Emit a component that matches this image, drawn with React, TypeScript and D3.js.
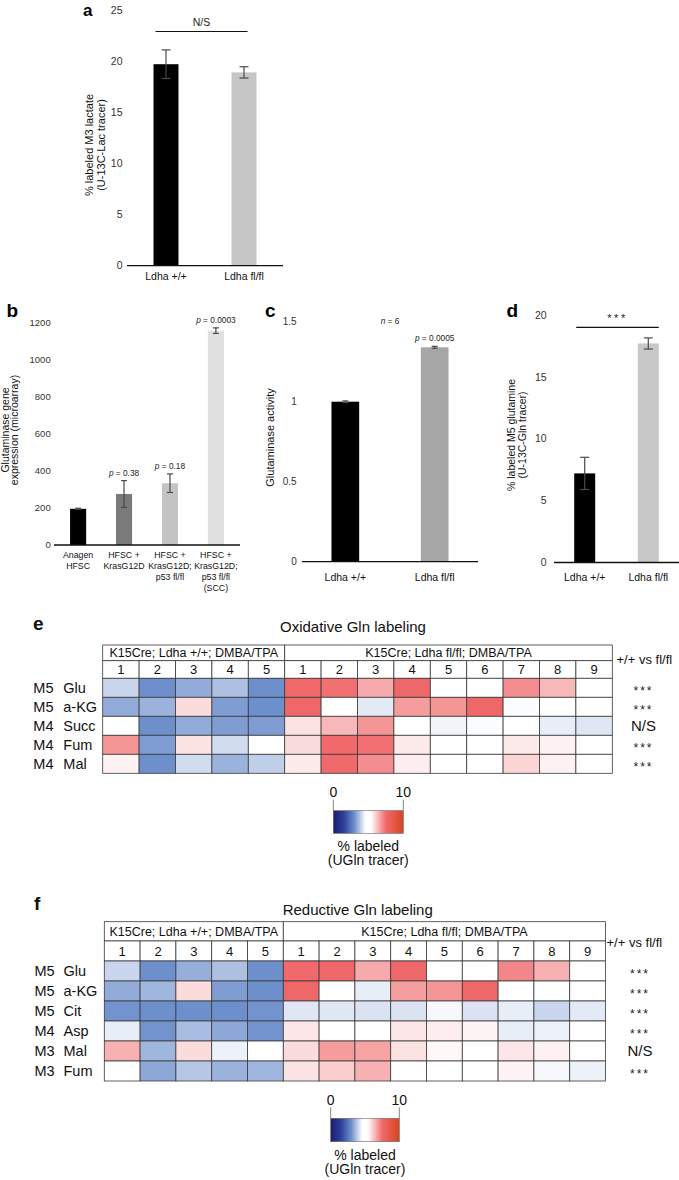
import * as d3 from "d3";

const FONT = "'Liberation Sans', Arial, Helvetica, sans-serif";

// ---- panel a : % labeled M3 lactate ----
const aGroups = ["Ldha +/+", "Ldha fl/fl"];
const aValues = [19.7, 18.9];
const aErrors = [1.4, 0.55];
const aTicks = [0, 5, 10, 15, 20, 25];

// ---- panel b : glutaminase gene expression ----
const bGroups = [
  ["Anagen", "HFSC"],
  ["HFSC +", "KrasG12D"],
  ["HFSC +", "KrasG12D;", "p53 fl/fl"],
  ["HFSC +", "KrasG12D;", "p53 fl/fl", "(SCC)"],
];
const bValues = [195, 275, 333, 1155];
const bErrors = [3, 72, 50, 15];
const bPvalues = ["", "0.38", "0.18", "0.0003"];
const bTicks = [0, 200, 400, 600, 800, 1000, 1200];

// ---- panel c : glutaminase activity ----
const cGroups = ["Ldha +/+", "Ldha fl/fl"];
const cValues = [1.0, 1.34];
const cErrors = [0.005, 0.006];
const cPvalues = ["", "0.0005"];
const cTicks = [0, 0.5, 1, 1.5];

// ---- panel d : % labeled M5 glutamine ----
const dGroups = ["Ldha +/+", "Ldha fl/fl"];
const dValues = [7.2, 17.7];
const dErrors = [1.3, 0.45];
const dTicks = [0, 5, 10, 15, 20];

// ---- heatmaps e / f ----
const wtSamples = ["1", "2", "3", "4", "5"];
const flSamples = ["1", "2", "3", "4", "5", "6", "7", "8", "9"];

const oxIsotopes = ["M5", "M5", "M4", "M4", "M4"];
const oxMetabolites = ["Glu", "a-KG", "Succ", "Fum", "Mal"];
const oxLabeling = [
  [4.0, 3.0, 3.4, 3.7, 3.0, 7.5, 7.4, 6.6, 7.6, 5.2, 4.85, 7.0, 6.4, 5.0],
  [3.4, 3.5, 5.9, 3.2, 3.0, 7.6, 5.4, 4.3, 6.8, 6.9, 7.6, 4.55, 4.65, 5.3],
  [5.0, 3.0, 3.4, 3.2, 3.2, 5.8, 6.4, 6.9, 4.85, 4.45, 4.55, 4.75, 4.35, 4.25],
  [6.9, 3.2, 5.8, 4.1, 4.95, 5.9, 7.5, 7.4, 5.7, 5.0, 5.0, 5.7, 5.6, 5.3],
  [5.6, 3.0, 4.1, 3.5, 3.9, 5.7, 7.5, 7.0, 5.65, 5.0, 5.0, 6.0, 5.6, 5.3],
];
const oxSignif = ["***", "***", "N/S", "***", "***"];

const redIsotopes = ["M5", "M5", "M5", "M4", "M3", "M3"];
const redMetabolites = ["Glu", "a-KG", "Cit", "Asp", "Mal", "Fum"];
const redLabeling = [
  [4.0, 3.0, 3.45, 3.7, 3.0, 7.5, 7.6, 6.6, 7.6, 5.3, 4.85, 7.1, 6.5, 5.0],
  [3.4, 3.55, 5.9, 3.2, 3.0, 7.6, 5.4, 4.35, 6.75, 6.9, 7.6, 4.85, 5.0, 5.4],
  [3.05, 3.0, 3.0, 3.0, 3.05, 4.25, 4.25, 4.2, 4.2, 4.5, 4.2, 4.35, 4.0, 4.3],
  [4.35, 3.05, 3.65, 3.35, 3.05, 5.75, 5.0, 5.3, 5.75, 5.65, 5.55, 4.35, 4.4, 5.3],
  [6.5, 3.55, 5.9, 4.4, 5.2, 5.9, 6.8, 6.7, 5.8, 5.5, 5.4, 5.75, 5.6, 5.0],
  [5.4, 3.35, 3.8, 3.5, 3.55, 5.8, 6.1, 6.5, 5.4, 5.0, 5.3, 5.55, 4.5, 4.4],
];
const redSignif = ["***", "***", "***", "***", "N/S", "***"];

const legendTicks = [0, 10];
const colorDomain = [0, 1.5, 3, 4.6, 5.4, 7.5, 10];
const colorRange = ["#1d1d6e", "#2c3f9c", "#6d8fcc", "#ffffff", "#ffffff", "#f06a6c", "#d8441f"];

const color = d3.scaleLinear<string>().domain(colorDomain).range(colorRange).clamp(true);

function BarPanel(p: any) {
  const x = d3
    .scaleBand<number>()
    .domain(d3.range(p.values.length))
    .range(p.xRange)
    .paddingInner(p.padInner)
    .paddingOuter(p.padOuter);
  const y = d3.scaleLinear().domain(p.yDomain).range(p.yRange);
  const bw = x.bandwidth();
  const y0 = y(0);
  const fmt = p.tickFormat || ((t: number) => String(t));
  return (
    <g fontFamily={FONT}>
      <text x={p.letterX} y={p.letterY} fontSize={p.letterSize || 19} fontWeight="bold">
        {p.letter}
      </text>
      {p.ticks.map((t: number) => (
        <text key={t} x={p.tickX} y={y(t)} dy="0.35em" textAnchor="end" fontSize={p.tickSize} fill="#333">
          {fmt(t)}
        </text>
      ))}
      {p.values.map((v: number, i: number) => {
        const cx = (x(i) as number) + bw / 2;
        const e = p.errors[i];
        return (
          <g key={i}>
            <rect x={x(i)} y={y(v)} width={bw} height={y0 - y(v)} fill={p.colors[i]} />
            <g stroke="#4a4a4a" strokeWidth={1.2}>
              <line x1={cx} x2={cx} y1={y(v + e)} y2={y(v - e)} />
              <line x1={cx - p.capW} x2={cx + p.capW} y1={y(v + e)} y2={y(v + e)} />
              <line x1={cx - p.capW} x2={cx + p.capW} y1={y(v - e)} y2={y(v - e)} />
            </g>
            {p.pvalues && p.pvalues[i] && (
              <text x={cx} y={y(v + e) - 5} textAnchor="middle" fontSize={p.pSize} fill="#222">
                <tspan fontStyle="italic">p</tspan> = {p.pvalues[i]}
              </text>
            )}
            {(Array.isArray(p.groups[i]) ? p.groups[i] : [p.groups[i]]).map((ln: string, j: number) => (
              <text
                key={j}
                x={cx}
                y={p.labelY + j * p.labelLineH}
                textAnchor="middle"
                fontSize={p.labelSize}
                fill="#111"
              >
                {ln}
              </text>
            ))}
          </g>
        );
      })}
      <line x1={p.xRange[0]} x2={p.xRange[1]} y1={y0} y2={y0} stroke="#111" strokeWidth={1.3} />
      {p.titleLines.map((ln: string, j: number) => (
        <text
          key={j}
          transform={`translate(${p.titleX[j]},${p.titleY}) rotate(-90)`}
          textAnchor="middle"
          fontSize={p.titleSize}
          fill="#111"
        >
          {ln}
        </text>
      ))}
      {p.extras && p.extras(x, y)}
    </g>
  );
}

function SigBar({ x1, x2, y, label, size, spacing }: any) {
  return (
    <g>
      <line x1={x1} x2={x2} y1={y} y2={y} stroke="#111" strokeWidth={1.2} />
      <text
        x={(x1 + x2) / 2}
        y={y - 5}
        textAnchor="middle"
        fontSize={size}
        letterSpacing={spacing || 0}
        fill="#222"
      >
        {label}
      </text>
    </g>
  );
}

function Heatmap(p: any) {
  const cols = [...wtSamples, ...flSamples];
  const nCols = cols.length;
  const right = p.left + nCols * p.colW;
  const x = d3.scaleBand<number>().domain(d3.range(nCols)).range([p.left, right]);
  const headTop = p.top;
  const numTop = p.top + p.h1;
  const dataTop = numTop + p.h2;
  const y = d3
    .scaleBand<number>()
    .domain(d3.range(p.metabolites.length))
    .range([dataTop, dataTop + p.metabolites.length * p.rowH]);
  const rh = y.bandwidth();
  const split = x(wtSamples.length) as number;
  const cb = p.cb;
  const cbx = d3.scaleLinear().domain([0, 10]).range([cb.x, cb.x + cb.w]);
  const gid = `grad-${p.letter}`;
  const stroke = "#3a3a3a";
  return (
    <g fontFamily={FONT} fill="#111">
      <defs>
        <linearGradient id={gid} x1="0" x2="1" y1="0" y2="0">
          {d3.range(0, 10.01, 0.25).map((v) => (
            <stop key={v} offset={`${v * 10}%`} stopColor={color(v)} />
          ))}
        </linearGradient>
      </defs>
      <text x={p.letterX} y={p.letterY} fontSize={19} fontWeight="bold">
        {p.letter}
      </text>
      <text x={p.titleX} y={p.titleY} fontSize={15}>
        {p.title}
      </text>
      {/* group header */}
      <rect x={p.left} y={headTop} width={split - p.left} height={p.h1} fill="#fff" stroke={stroke} strokeWidth={0.8} />
      <rect x={split} y={headTop} width={right - split} height={p.h1} fill="#fff" stroke={stroke} strokeWidth={0.8} />
      <text x={(p.left + split) / 2} y={headTop + p.h1 / 2} dy="0.36em" textAnchor="middle" fontSize={12.5}>
        K15Cre; Ldha +/+; DMBA/TPA
      </text>
      <text x={(split + right) / 2} y={headTop + p.h1 / 2} dy="0.36em" textAnchor="middle" fontSize={12.5}>
        K15Cre; Ldha fl/fl; DMBA/TPA
      </text>
      {cols.map((c, i) => (
        <g key={i}>
          <rect x={x(i)} y={numTop} width={x.bandwidth()} height={p.h2} fill="#fff" stroke={stroke} strokeWidth={0.8} />
          <text x={(x(i) as number) + x.bandwidth() / 2} y={numTop + p.h2 / 2} dy="0.36em" textAnchor="middle" fontSize={13}>
            {c}
          </text>
        </g>
      ))}
      {p.values.map((row: number[], r: number) => (
        <g key={r}>
          {row.map((v, i) => (
            <rect
              key={i}
              x={x(i)}
              y={y(r)}
              width={x.bandwidth()}
              height={rh}
              fill={color(v)}
              stroke={stroke}
              strokeWidth={0.8}
            />
          ))}
          <text x={p.isoX} y={(y(r) as number) + rh / 2} dy="0.36em" fontSize={14.5}>
            {p.isotopes[r]}
          </text>
          <text x={p.nameX} y={(y(r) as number) + rh / 2} dy="0.36em" fontSize={14.5}>
            {p.metabolites[r]}
          </text>
          {p.signif[r] === "N/S" ? (
            <text x={p.sigX} y={(y(r) as number) + rh / 2} dy="0.36em" textAnchor="middle" fontSize={15}>
              N/S
            </text>
          ) : (
            <text
              x={p.sigX}
              y={(y(r) as number) + rh / 2}
              dy="0.62em"
              textAnchor="middle"
              fontSize={12}
              letterSpacing={2}
              fill="#222"
            >
              {p.signif[r]}
            </text>
          )}
        </g>
      ))}
      <text x={p.vsX} y={p.vsY} fontSize={13}>
        +/+ vs fl/fl
      </text>
      {/* colour legend */}
      <rect x={cb.x} y={cb.y} width={cb.w} height={cb.h} fill={`url(#${gid})`} stroke="#666" strokeWidth={0.6} />
      {legendTicks.map((t) => (
        <g key={t}>
          <line x1={cbx(t)} x2={cbx(t)} y1={cb.y - 11} y2={cb.y} stroke="#666" strokeWidth={0.8} />
          <text x={cbx(t)} y={cb.tickY} textAnchor="middle" fontSize={14}>
            {t}
          </text>
        </g>
      ))}
      <text x={cb.x + cb.w / 2} y={cb.labelY} textAnchor="middle" fontSize={14}>
        % labeled
      </text>
      <text x={cb.x + cb.w / 2} y={cb.labelY + 14} textAnchor="middle" fontSize={14}>
        (UGln tracer)
      </text>
    </g>
  );
}

export default function App() {
  return (
    <svg
      width={679}
      height={1180}
      style={{ position: "absolute", left: 0, top: 0, background: "#fff" }}
    >
      <BarPanel
        letter="a"
        letterX={83}
        letterY={15.5}
        letterSize={17}
        values={aValues}
        errors={aErrors}
        groups={aGroups}
        colors={["#000000", "#c6c6c6"]}
        xRange={[127, 283]}
        padInner={0.68}
        padOuter={0.34}
        yDomain={[0, 25]}
        yRange={[265.7, 10]}
        ticks={aTicks}
        tickX={122.5}
        tickSize={10.5}
        capW={4.5}
        labelY={280}
        labelLineH={11}
        labelSize={10.5}
        titleLines={["% labeled M3 lactate", "(U-13C-Lac tracer)"]}
        titleX={[93, 104.5]}
        titleY={145}
        titleSize={11}
        extras={(x: any, y: any) => (
          <SigBar x1={x(0) + 2} x2={x(1) + 16} y={y(22.9)} label="N/S" size={10.5} />
        )}
      />
      <BarPanel
        letter="b"
        letterX={6.5}
        letterY={317}
        values={bValues}
        errors={bErrors}
        groups={bGroups}
        pvalues={bPvalues}
        pSize={8.3}
        colors={["#000000", "#7a7a7a", "#c4c4c4", "#e0e0e0"]}
        xRange={[54, 240]}
        padInner={0.65}
        padOuter={0.35}
        yDomain={[0, 1200]}
        yRange={[545, 322.3]}
        ticks={bTicks}
        tickX={50.7}
        tickSize={9.5}
        capW={3}
        labelY={557.5}
        labelLineH={11}
        labelSize={8.8}
        titleLines={["Glutaminase gene", "expression (microarray)"]}
        titleX={[8.5, 18]}
        titleY={430}
        titleSize={10.5}
      />
      <BarPanel
        letter="c"
        letterX={265}
        letterY={317}
        values={cValues}
        errors={cErrors}
        groups={cGroups}
        pvalues={cPvalues}
        pSize={8.3}
        colors={["#000000", "#a6a6a6"]}
        xRange={[302, 478]}
        padInner={0.69}
        padOuter={0.33}
        yDomain={[0, 1.5]}
        yRange={[561.7, 321.7]}
        ticks={cTicks}
        tickX={296.7}
        tickSize={10}
        capW={3}
        labelY={580.5}
        labelLineH={11}
        labelSize={10.5}
        titleLines={["Glutaminase activity"]}
        titleX={[274]}
        titleY={437.5}
        titleSize={11}
        extras={(x: any, y: any) => (
          <text
            x={((x(0) as number) + (x(1) as number) + x.bandwidth()) / 2}
            y={y(1.5) + 2}
            textAnchor="middle"
            fontSize={8.3}
            fill="#222"
          >
            <tspan fontStyle="italic">n</tspan> = 6
          </text>
        )}
      />
      <BarPanel
        letter="d"
        letterX={506.5}
        letterY={317}
        values={dValues}
        errors={dErrors}
        groups={dGroups}
        colors={["#000000", "#c8c8c8"]}
        xRange={[554, 679]}
        padInner={0.67}
        padOuter={0.318}
        yDomain={[0, 20]}
        yRange={[562.5, 315]}
        ticks={dTicks}
        tickX={546.7}
        tickSize={10.5}
        capW={4.5}
        labelY={580.5}
        labelLineH={11}
        labelSize={10.5}
        titleLines={["% labeled M5 glutamine", "(U-13C-Gln tracer)"]}
        titleX={[514.5, 526]}
        titleY={435}
        titleSize={10.5}
        extras={(x: any, y: any) => (
          <SigBar
            x1={x(0) + 2}
            x2={x(1) + x.bandwidth()}
            y={y(19)}
            label="***"
            size={11}
            spacing={2.5}
          />
        )}
      />
      <Heatmap
        letter="e"
        letterX={33}
        letterY={630}
        title="Oxidative Gln labeling"
        titleX={280}
        titleY={631.5}
        left={102.7}
        colW={36.4}
        top={645}
        h1={15.7}
        h2={17.6}
        rowH={19}
        isotopes={oxIsotopes}
        metabolites={oxMetabolites}
        values={oxLabeling}
        signif={oxSignif}
        isoX={33.3}
        nameX={63.3}
        sigX={643.5}
        vsX={616.5}
        vsY={664}
        cb={{ x: 333.3, y: 810.7, w: 70, h: 22.6, tickY: 796.7, labelY: 851 }}
      />
      <Heatmap
        letter="f"
        letterX={34}
        letterY={910}
        title="Reductive Gln labeling"
        titleX={282.7}
        titleY={915}
        left={104.3}
        colW={35.8}
        top={921.7}
        h1={19.3}
        h2={20}
        rowH={20}
        isotopes={redIsotopes}
        metabolites={redMetabolites}
        values={redLabeling}
        signif={redSignif}
        isoX={34.5}
        nameX={63.5}
        sigX={640}
        vsX={606.5}
        vsY={947}
        cb={{ x: 330.7, y: 1118.3, w: 68.6, h: 23.4, tickY: 1105, labelY: 1159.5 }}
      />
    </svg>
  );
}
